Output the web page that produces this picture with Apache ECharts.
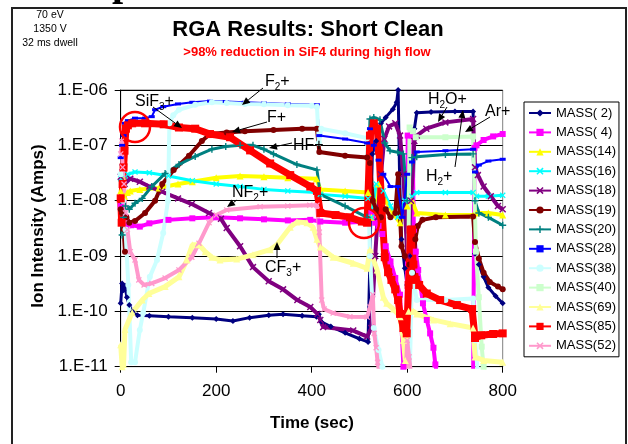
<!DOCTYPE html>
<html><head><meta charset="utf-8">
<script src="https://cdn.jsdelivr.net/npm/echarts@6/dist/echarts.min.js"></script>
<style>html,body{margin:0;padding:0;background:#fff}#c{width:628px;height:444px}</style>
</head><body><div id="c"></div>
<script>
// ---- data: [time (s), ion current (A)] ----
const seriesNames = ['MASS( 2)','MASS( 4)','MASS(14)','MASS(16)','MASS(18)','MASS(19)','MASS(20)','MASS(28)','MASS(38)','MASS(40)','MASS(69)','MASS(85)','MASS(52)'];
const yTicks = [1e-11,1e-10,1e-9,1e-8,1e-7,1e-6];
const xTicks = [0,200,400,600,800];

const m2 = [[0,1.4e-10],[3,3.2e-10],[6,2.4e-10],[9,2.9e-10],[13,1.8e-10],[18,1.3e-10],[25,9.8e-11],[35,8.5e-11],[60,8.3e-11],[100,8e-11],[150,7.7e-11],[200,7.3e-11],[235,6.7e-11],[270,7.7e-11],[310,8.5e-11],[340,8.9e-11],[380,8.3e-11],[410,8e-11],[415,8.9e-11],[420,6.5e-11],[440,5.3e-11],[470,4.1e-11],[500,3.2e-11],[518,2.8e-11],[522,1e-9],[527,7e-8],[535,1.2e-7],[545,2.5e-7],[555,3.2e-7],[570,4.5e-7],[578,6e-7],[581,1e-6],[584,3e-8],[588,2e-9],[595,6e-10],[600,3e-10],[605,1e-9],[610,5e-10],[615,2e-7],[620,3.9e-7],[650,4e-7],[700,4.1e-7],[738,4.1e-7],[742,1.1e-9],[750,7e-10],[760,4.2e-10],[770,2.7e-10],[785,1.9e-10],[800,1.4e-10]];
const m4 = [[0,8e-9],[3,4e-9],[6,1.2e-8],[10,5e-9],[16,3.6e-9],[22,3.6e-9],[40,3.4e-9],[60,3.9e-9],[100,4.5e-9],[150,4.8e-9],[200,5e-9],[250,4.8e-9],[300,4.6e-9],[350,4.4e-9],[397,4.5e-9],[418,4.2e-9],[470,4e-9],[518,4.2e-9],[525,6e-9],[533,4e-9],[540,3.5e-9],[548,2.5e-9],[555,1.5e-9],[565,8e-10],[575,4e-10],[585,2e-10],[592,1e-11],[598,5e-12],[601,1.5e-7],[611,1.5e-7],[614,3e-9],[618,1.2e-9],[623,5.6e-10],[633,1.4e-10],[641,7e-11],[648,4e-11],[655,2.2e-11],[659,1.1e-11],[665,5e-12],[738,5e-12],[741,9e-8],[745,1e-7],[760,1.25e-7],[780,1.45e-7],[800,1.6e-7]];
const m14 = [[0,1.5e-8],[4,2.5e-8],[8,1.2e-8],[14,1.4e-8],[20,1.5e-8],[40,1.6e-8],[80,1.7e-8],[120,2e-8],[150,2.2e-8],[200,2.6e-8],[250,2.8e-8],[300,2.7e-8],[350,2.6e-8],[410,2.5e-8],[418,1.6e-8],[470,1.5e-8],[518,1.4e-8],[525,5e-9],[540,2e-8],[555,1e-8],[570,6e-9],[585,4e-9],[600,8e-9],[610,1e-8],[620,6e-9],[680,5.5e-9],[738,5.5e-9],[745,6e-9],[770,6e-9],[800,5.5e-9]];
const m16 = [[0,2.5e-8],[4,4e-8],[8,2e-8],[15,3e-8],[30,3.3e-8],[60,3.2e-8],[100,2.8e-8],[150,2.3e-8],[200,2e-8],[250,1.8e-8],[300,1.6e-8],[350,1.5e-8],[410,1.4e-8],[418,1.3e-8],[470,1.2e-8],[518,1.1e-8],[525,5e-9],[535,2e-8],[550,1.5e-8],[565,8e-9],[580,5e-9],[595,1e-8],[610,1.2e-8],[620,1.4e-8],[680,1.4e-8],[738,1.4e-8],[745,1.2e-8],[770,1.2e-8],[800,1.25e-8]];
const m18 = [[0,2.7e-8],[4,4e-8],[8,2e-8],[20,2.5e-8],[40,2.2e-8],[60,1.8e-8],[87,1.45e-8],[120,1.1e-8],[149,8.7e-9],[185,6e-9],[210,4.7e-9],[222,3.2e-9],[250,1.5e-9],[277,6.3e-10],[310,3.5e-10],[340,2.5e-10],[370,1.6e-10],[397,1.2e-10],[412,9e-11],[418,7e-11],[424,5.2e-11],[487,4.5e-11],[516,3.5e-11],[525,5e-11],[533,1e-9],[538,5e-9],[545,3e-8],[552,1.3e-7],[562,2.2e-7],[575,2.5e-7],[585,1.5e-7],[592,3e-8],[600,1e-9],[608,1e-8],[615,1.2e-7],[620,1.5e-7],[640,2e-7],[680,2.6e-7],[738,3e-7],[742,4e-8],[748,2.9e-8],[760,1.8e-8],[775,1.2e-8],[790,8e-9],[800,7e-9]];
const m19 = [[0,7e-9],[3,6e-9],[6,3e-9],[9,1.2e-9],[12,5e-9],[18,4e-9],[30,4.3e-9],[51,6e-9],[72,1e-8],[87,2e-8],[111,3.6e-8],[143,6.5e-8],[170,1.2e-7],[187,1.6e-7],[222,1.7e-7],[260,1.8e-7],[320,1.9e-7],[380,2e-7],[411,2e-7],[416,7.6e-8],[470,6.5e-8],[516,6e-8],[522,4.8e-8],[528,1e-8],[535,7e-9],[545,5e-9],[555,7e-9],[565,5e-9],[575,6e-9],[581,3e-8],[588,1.5e-9],[595,1e-9],[605,7e-10],[612,5e-10],[617,2e-9],[622,3.5e-9],[632,4.5e-9],[660,5e-9],[738,5.2e-9],[742,1.8e-9],[750,9e-10],[760,5e-10],[773,3.4e-10],[790,2.8e-10],[800,2.5e-10]];
const m20 = [[0,1e-8],[3,2.4e-9],[6,5e-9],[10,8e-9],[18,7e-9],[30,9e-9],[45,1.1e-8],[65,1.8e-8],[93,3.1e-8],[122,4.5e-8],[156,6.3e-8],[191,8.5e-8],[220,9.5e-8],[250,1e-7],[277,1e-7],[300,8.5e-8],[320,7e-8],[369,4.5e-8],[411,3.6e-8],[418,1.3e-8],[470,8e-9],[516,5e-9],[522,3e-7],[530,3.2e-7],[543,2.9e-7],[553,1.1e-7],[564,8e-8],[580,7.5e-8],[592,7e-8],[600,1e-8],[610,6e-8],[620,6.2e-8],[680,6.8e-8],[738,7e-8],[742,1e-8],[750,6e-9],[770,5e-9],[800,3.6e-9]];
const m28 = [[0,6e-8],[3,1e-7],[6,1.5e-7],[9,2.5e-7],[15,2.8e-7],[30,3.1e-7],[51,3.1e-7],[65,3.3e-7],[72,4.4e-7],[89,5e-7],[120,5.6e-7],[150,6e-7],[187,6.3e-7],[220,6.2e-7],[260,6e-7],[300,5.8e-7],[350,5.6e-7],[411,5.4e-7],[416,1.5e-7],[470,1.3e-7],[516,1.1e-7],[522,2e-7],[530,1e-7],[540,5.4e-8],[550,3e-8],[565,1.8e-8],[580,1.8e-8],[590,5e-9],[600,3e-8],[610,5e-8],[620,7.6e-8],[680,8e-8],[738,8.5e-8],[742,3.3e-8],[750,4.4e-8],[770,5.2e-8],[800,5.6e-8]];
const m38 = [[0,3e-8],[5,1e-8],[10,3e-9],[16,3e-10],[22,1.2e-11],[30,1.2e-11],[40,4.6e-11],[47,9.3e-11],[61,4.2e-10],[76,8.5e-10],[89,2.6e-9],[99,1e-8],[102,2.5e-7],[110,3.5e-7],[122,4.4e-7],[156,5.4e-7],[191,6e-7],[222,5.8e-7],[260,5.6e-7],[300,5.5e-7],[350,5.3e-7],[400,5.2e-7],[411,5e-7],[415,1.1e-7],[420,2e-7],[470,1.65e-7],[516,1.35e-7],[522,1e-9],[530,5e-11],[540,2e-11],[548,1e-11],[555,5e-12],[605,5e-12],[610,5e-10],[615,3e-10],[620,1.6e-10],[680,1.6e-10],[738,1.7e-10],[742,3e-11],[750,5e-12],[800,5e-12]];
const m40 = [[0,5e-12],[600,5e-12],[605,2.1e-7],[612,1.8e-7],[618,1.4e-7],[680,1.4e-7],[738,1.45e-7],[744,1.2e-9],[750,1.8e-10],[756,2.3e-11],[760,1e-11],[765,5e-12],[800,5e-12]];
const m69 = [[0,2.5e-11],[3,1e-11],[6,1.1e-11],[9,4.7e-11],[24,9.5e-11],[45,1.6e-10],[59,2.1e-10],[93,2.8e-10],[122,4.2e-10],[139,8.5e-10],[150,1.6e-9],[164,1.6e-9],[177,1.2e-9],[191,9.5e-10],[208,8.5e-10],[243,8.8e-10],[277,1.05e-9],[313,1.3e-9],[327,1.6e-9],[355,3.3e-9],[369,4.1e-9],[390,4e-9],[403,3.3e-9],[411,2e-9],[418,1.45e-9],[445,9.5e-10],[487,7.4e-10],[516,6e-10],[522,1.3e-9],[537,5.6e-10],[550,1.8e-10],[557,1.4e-10],[571,1.1e-10],[585,8e-11],[592,3e-11],[596,1.3e-11],[603,1e-10],[613,1e-10],[620,9e-11],[655,7e-11],[690,6e-11],[738,5e-11],[742,1.5e-11],[760,1.3e-11],[800,1.2e-11]];
const m85 = [[0,1.1e-8],[2,4e-9],[4,2e-8],[6,4e-8],[8,8e-8],[11,2e-7],[15,2.3e-7],[24,2.5e-7],[51,2.5e-7],[90,2.4e-7],[122,2.1e-7],[156,2e-7],[187,1.6e-7],[229,1.4e-7],[271,8.1e-8],[313,4.7e-8],[355,2.9e-8],[397,1.8e-8],[411,1.5e-8],[418,6e-9],[450,5.5e-9],[480,5e-9],[505,4.2e-9],[516,4e-9],[522,1.5e-7],[530,2.5e-7],[537,2e-7],[541,8e-8],[546,1e-8],[553,9.5e-10],[560,5.1e-10],[567,3.7e-10],[575,2.5e-10],[581,1.6e-10],[585,9e-11],[592,5e-11],[599,4e-11],[603,3e-10],[607,3e-9],[610,3e-9],[613,7e-10],[618,3.7e-10],[625,3e-10],[641,2.1e-10],[669,1.6e-10],[704,1.3e-10],[736,1.1e-10],[742,3.3e-11],[755,3.7e-11],[780,3.9e-11],[800,4e-11]];
const m52 = [[0,7e-8],[2,1.2e-7],[4,4e-8],[7,2e-8],[10,6e-9],[14,3e-9],[20,1.2e-9],[30,8.5e-10],[38,3.7e-10],[49,3e-10],[65,3.2e-10],[93,4e-10],[122,5.6e-10],[149,9.5e-10],[164,1.7e-9],[185,4e-9],[200,5.5e-9],[222,6.8e-9],[292,7.8e-9],[350,8e-9],[396,8.3e-9],[411,8.3e-9],[416,2.7e-9],[421,1.6e-10],[426,1.1e-10],[445,9.3e-11],[480,8e-11],[516,7.9e-11],[522,1.2e-10],[528,2e-10],[531,4e-11],[535,2.2e-11],[538,1.2e-11],[545,5e-12],[596,5e-12],[600,3e-11],[604,1.5e-11],[610,5e-12],[800,5e-12]];

const seriesData = [m2,m4,m14,m16,m18,m19,m20,m28,m38,m40,m69,m85,m52];

// ---- styles ----
const X_SYM = 'path://M0,1.5 L1.5,0 L5,3.5 L8.5,0 L10,1.5 L6.5,5 L10,8.5 L8.5,10 L5,6.5 L1.5,10 L0,8.5 L3.5,5 Z';
const PLUS_SYM = 'path://M4,0 H6 V4 H10 V6 H6 V10 H4 V6 H0 V4 H4 Z';
const styles = [
  {c:'#000080', s:'diamond', z:6, w:3},
  {c:'#FF00FF', s:'rect', z:6, w:4},
  {c:'#FFFF00', s:'triangle', z:7, w:4},
  {c:'#00FFFF', s:X_SYM, z:6, w:3},
  {c:'#800080', s:X_SYM, z:7, w:4},
  {c:'#800000', s:'circle', z:6, w:4},
  {c:'#008080', s:PLUS_SYM, z:7, w:3},
  {c:'#0000FF', s:'rect', z:[6,3], w:2},
  {c:'#CCFFFF', s:'circle', z:6, w:4},
  {c:'#CCFFCC', s:'rect', z:6, w:4},
  {c:'#FFFF99', s:'triangle', z:7, w:5},
  {c:'#FF0000', s:'rect', z:8, w:7},
  {c:'#FF99CC', s:X_SYM, z:6, w:4}
];

const FONT = 'Arial, "Liberation Sans", sans-serif';
const chart = echarts.init(document.getElementById('c'), null, {renderer:'canvas'});

const series = seriesNames.map((n,i)=>({
  name:n, type:'line', data:seriesData[i], clip:true,
  symbol:styles[i].s, symbolSize:styles[i].z, showSymbol:true, showAllSymbol:true,
  lineStyle:{color:styles[i].c, width:styles[i].w},
  itemStyle:{color:styles[i].c},
  emphasis:{disabled:true}, animation:false
}));

function arrow(x1,y1,x2,y2){
  const a = Math.atan2(y2-y1,x2-x1), L=8, W=3.5;
  const bx = x2-L*Math.cos(a), by = y2-L*Math.sin(a);
  const px = -Math.sin(a)*W, py = Math.cos(a)*W;
  return [
    {type:'line', z:100, shape:{x1,y1,x2:bx,y2:by}, style:{stroke:'#000', lineWidth:1}},
    {type:'polygon', z:100, shape:{points:[[x2,y2],[bx+px,by+py],[bx-px,by-py]]}, style:{fill:'#000'}}
  ];
}
const rich = {
  n:{fontSize:16, fontFamily:FONT, fill:'#000', lineHeight:20, verticalAlign:'middle'},
  s:{fontSize:10, fontFamily:FONT, fill:'#000', lineHeight:10, verticalAlign:'bottom'}
};
function lab(x,y,txt){
  return {type:'text', z:100, x, y, style:{text:txt, rich, textAlign:'left', textVerticalAlign:'middle'}};
}

const gfx = [
  {type:'rect', z:0, shape:{x:12, y:8, width:614, height:460}, style:{fill:'none', stroke:'#222', lineWidth:2}},
  {type:'text', z:100, x:112, y:-35, style:{text:'p', font:'bold 40px "Liberation Serif", "Times New Roman", serif', fill:'#000', textVerticalAlign:'top'}},
  {type:'text', z:100, x:50, y:15, style:{text:'70 eV', font:'10.5px '+FONT, fill:'#000', textAlign:'center', textVerticalAlign:'middle'}},
  {type:'text', z:100, x:50, y:29, style:{text:'1350 V', font:'10.5px '+FONT, fill:'#000', textAlign:'center', textVerticalAlign:'middle'}},
  {type:'text', z:100, x:50, y:43, style:{text:'32 ms dwell', font:'10.5px '+FONT, fill:'#000', textAlign:'center', textVerticalAlign:'middle'}},
  {type:'text', z:100, x:308, y:30, style:{text:'RGA Results: Short Clean', font:'bold 22px '+FONT, fill:'#000', textAlign:'center', textVerticalAlign:'middle'}},
  {type:'text', z:100, x:307, y:52, style:{text:'>98% reduction in SiF4 during high flow', font:'bold 13px '+FONT, fill:'#FF0000', textAlign:'center', textVerticalAlign:'middle'}},
  {type:'text', z:100, x:312, y:423, style:{text:'Time (sec)', font:'bold 17px '+FONT, fill:'#000', textAlign:'center', textVerticalAlign:'middle'}},
  {type:'text', z:100, x:38, y:226, rotation:Math.PI/2, style:{text:'Ion Intensity (Amps)', font:'bold 17px '+FONT, fill:'#000', textAlign:'center', textVerticalAlign:'middle'}},
  lab(265,82,'{n|F}{s|2}{n|+}'),
  lab(135,102,'{n|SiF}{s|3}{n|+}'),
  lab(267,118,'{n|F+}'),
  lab(293,146,'{n|HF+}'),
  lab(232,193,'{n|NF}{s|2}{n|+}'),
  lab(265,268,'{n|CF}{s|3}{n|+}'),
  lab(428,100,'{n|H}{s|2}{n|O+}'),
  lab(426,177,'{n|H}{s|2}{n|+}'),
  lab(485,112,'{n|Ar+}'),
  ...arrow(263,88,242,105),
  ...arrow(153,107,182,128),
  ...arrow(267,122,232,132),
  ...arrow(292,143,269,148),
  ...arrow(237,200,227,207),
  ...arrow(277,258,277,242),
  ...arrow(447,107,438,122),
  ...arrow(455,167,463,110),
  ...arrow(490,117,465,132),
  {type:'circle', z:100, shape:{cx:135, cy:127, r:15}, style:{fill:'none', stroke:'#FF0000', lineWidth:2.5}},
  {type:'circle', z:100, shape:{cx:364, cy:223, r:15}, style:{fill:'none', stroke:'#FF0000', lineWidth:2.5}}
];

function fmtY(v){
  const e = Math.round(Math.log10(v));
  return '1.E' + (e<0?'-':'+') + String(Math.abs(e)).padStart(2,'0');
}

chart.setOption({
  animation:false,
  backgroundColor:'#fff',
  grid:{left:120.7, right:125.3, top:90, bottom:77.3, show:true, borderColor:'#808080', borderWidth:1, backgroundColor:'transparent'},
  xAxis:{type:'value', min:xTicks[0], max:xTicks[xTicks.length-1], interval:200,
    axisLine:{show:true, lineStyle:{color:'#000', width:1}},
    axisTick:{show:true, length:6, lineStyle:{color:'#000'}},
    axisLabel:{fontSize:17, color:'#000', margin:16, fontFamily:FONT},
    splitLine:{show:false}},
  yAxis:{type:'log', logBase:10, min:yTicks[0], max:yTicks[yTicks.length-1],
    axisLine:{show:true, lineStyle:{color:'#000', width:1}},
    axisTick:{show:true, length:6, lineStyle:{color:'#000'}},
    axisLabel:{fontSize:17, color:'#000', margin:13, fontFamily:FONT, formatter:fmtY},
    splitLine:{show:true, lineStyle:{color:['#000','#000','#000','#000','#000','#808080'], width:1}},
    minorTick:{show:false}},
  legend:{orient:'vertical', left:524, top:102, itemWidth:22, itemHeight:9, itemGap:5.4,
    padding:[4,3,4,4], borderColor:'#000', borderWidth:1, backgroundColor:'#fff',
    textStyle:{fontSize:13, fontFamily:FONT, color:'#000', lineHeight:14},
    lineStyle:{width:2}, data:seriesNames, selectedMode:false},
  series,
  graphic:{elements:gfx}
});
</script>
</body></html>
